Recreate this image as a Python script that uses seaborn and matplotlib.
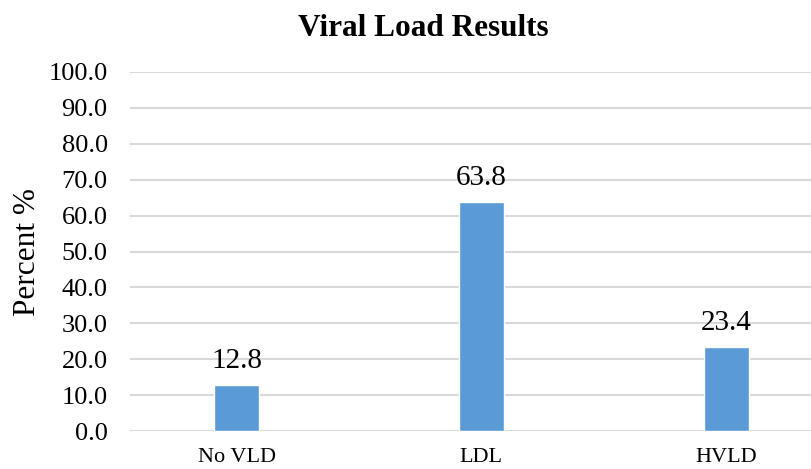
import matplotlib
matplotlib.use("Agg")
import matplotlib.pyplot as plt
import seaborn as sns
import pandas as pd

# data
categories = ["No VLD", "LDL", "HVLD"]
percent = [12.8, 63.8, 23.4]
y_ticks = [0, 10, 20, 30, 40, 50, 60, 70, 80, 90, 100]

sns.set_style("white")
plt.rcParams['font.family'] = ['Liberation Serif', 'DejaVu Serif']
plt.rcParams['text.color'] = "black"
plt.rcParams['xtick.color'] = "black"
plt.rcParams['ytick.color'] = "black"
plt.rcParams['axes.labelcolor'] = "black"

df = pd.DataFrame({"category": categories, "percent": percent})

fig = plt.figure(figsize=(8.12, 4.69), dpi=100)
ax = fig.add_axes([0.160, 0.081, 0.840, 0.7655])

sns.barplot(data=df, x="category", y="percent", color="#5B9BD5",
            width=0.184, saturation=1, ax=ax, zorder=3)

ax.bar_label(ax.containers[0], fmt="%.1f", padding=8, fontsize=21)

ax.set_ylim(0, 100)
ax.set_xlim(-0.4355, 2.351)
ax.set_yticks(y_ticks)
ax.set_yticklabels([f"{v:.1f}" for v in y_ticks])
ax.yaxis.grid(True, color="#D9D9D9", linewidth=1.5, zorder=0)
ax.set_axisbelow(True)
for s in ax.spines.values():
    s.set_visible(False)
ax.tick_params(axis="y", length=0, pad=16, labelsize=19)
ax.tick_params(axis="x", length=0, pad=12, labelsize=16)
ax.set_xlabel("")
ax.set_ylabel("Percent %", fontsize=22.5, labelpad=5)

fig.text(0.521, 1 - 29 / 469, "Viral Load Results", ha="center", va="center",
         fontsize=22.5, fontweight="bold")

fig.savefig("out.png", dpi=100)
